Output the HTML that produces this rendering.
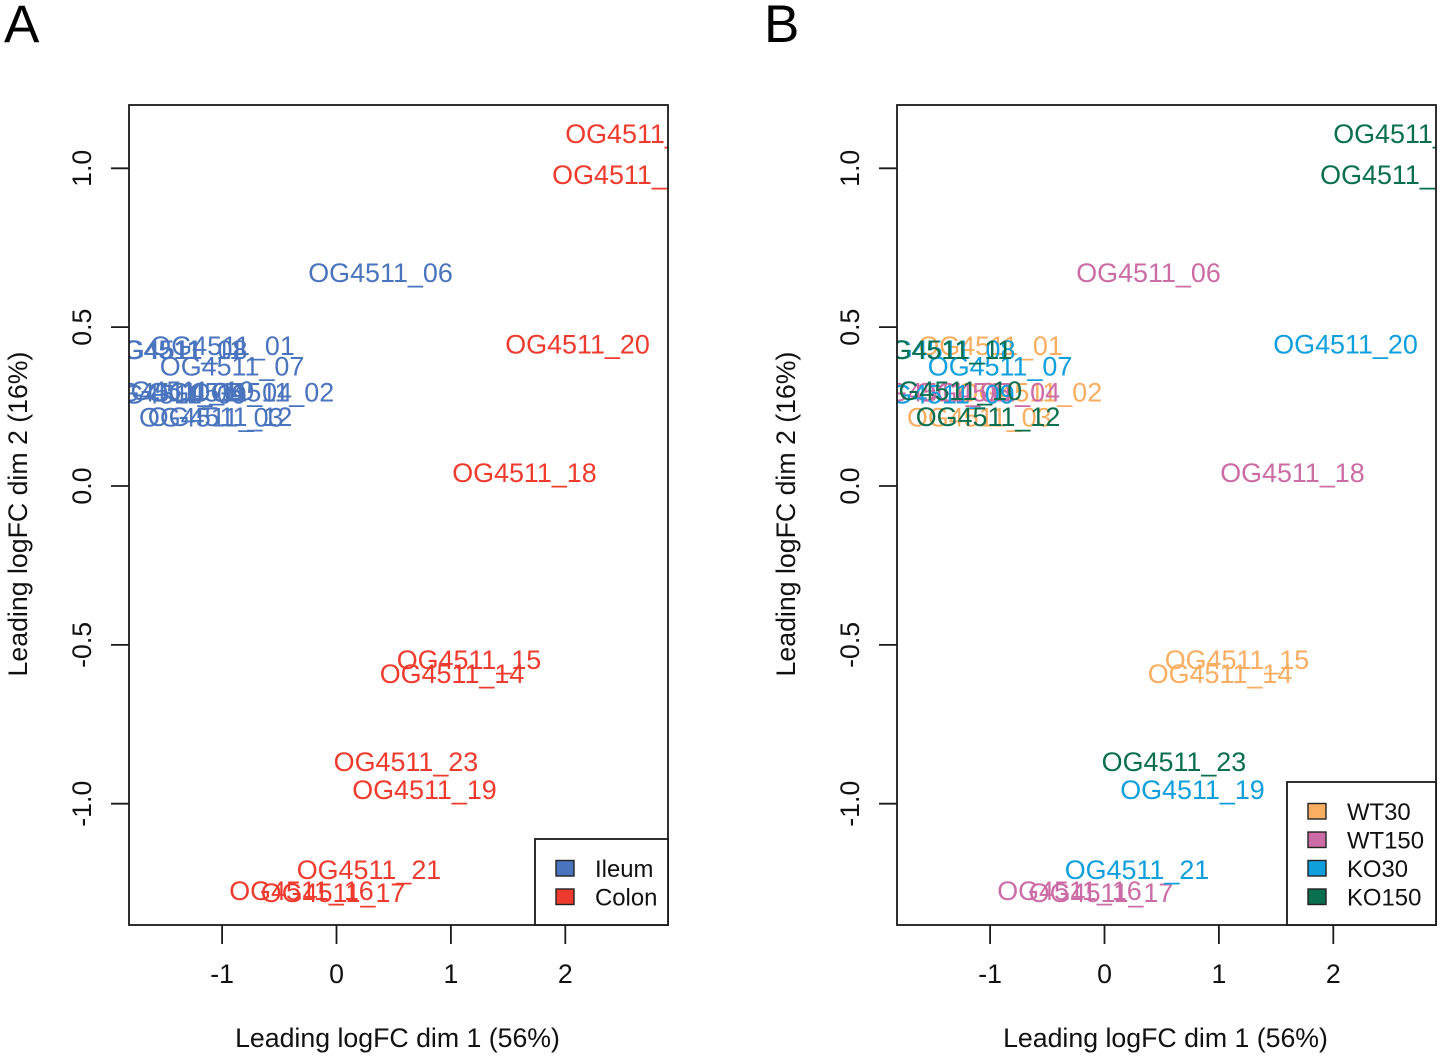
<!DOCTYPE html>
<html>
<head>
<meta charset="utf-8">
<title>MDS plots</title>
<style>
html,body{margin:0;padding:0;background:#fff;}
svg{display:block;}
text{font-family:"Liberation Sans",sans-serif;}
</style>
</head>
<body>
<svg id="fig" xmlns="http://www.w3.org/2000/svg" width="1441" height="1056" viewBox="0 0 1441 1056"></svg>
<script>
const sampleIds = ['01','02','03','04','05','06','07','08','09','10','11','12','14','15','16','17','18','19','20','21','22','23','24'];
const dim1Values = [-0.996,-0.652,-1.095,-1.02,-1.455,0.385,-0.913,-1.41,-1.416,-1.352,-1.43,-1.018,1.01,1.158,-0.306,-0.03,1.643,0.769,2.107,0.284,2.631,0.607,2.517];
const dim2Values = [0.44,0.293,0.215,0.293,0.293,0.67,0.375,0.427,0.288,0.299,0.427,0.217,-0.592,-0.548,-1.275,-1.281,0.04,-0.957,0.444,-1.209,1.108,-0.869,0.979];
const tissueGroup = ['Ileum','Ileum','Ileum','Ileum','Ileum','Ileum','Ileum','Ileum','Ileum','Ileum','Ileum','Ileum','Colon','Colon','Colon','Colon','Colon','Colon','Colon','Colon','Colon','Colon','Colon'];
const treatmentGroup = ['WT30','WT30','WT30','WT150','WT150','WT150','KO30','KO30','KO30','KO150','KO150','KO150','WT30','WT30','WT150','WT150','WT150','KO30','KO30','KO30','KO150','KO150','KO150'];
const xTickValues = [-1,0,1,2];
const yTickValues = [-1,-0.5,0,0.5,1];
const yTickLabels = ['-1.0','-0.5','0.0','0.5','1.0'];
const tissueLegend = ['Ileum','Colon'];
const treatmentLegend = ['WT30','WT150','KO30','KO150'];
const groupColors = {Ileum:'#4A74BE',Colon:'#EE3B2E',WT30:'#F9AE61',WT150:'#CC6CA6',KO30:'#0F9FDC',KO150:'#0A6F4E'};

const NS = 'http://www.w3.org/2000/svg';
const fig = document.getElementById('fig');
const INK = '#1a1a1a';

function el(parent, tag, attrs, content) {
  const node = document.createElementNS(NS, tag);
  for (const k in attrs) node.setAttribute(k, attrs[k]);
  if (content !== undefined) node.textContent = content;
  parent.appendChild(node);
  return node;
}

function drawPanel(offset, letter, letterX, groups, legendItems, legendLeft, legendTop, panelKey) {
  const left = 129 + offset, right = 668 + offset, top = 105, bottom = 925;
  const xScale = v => 336.5 + offset + v * 114.4;
  const yScale = v => 486 - v * 317.7;

  const panel = el(fig, 'g', {});
  
  

  const panelLetter = el(panel, 'text', {x: letterX, y: 42, 'font-size': 53, fill: '#000'}, letter);
  
  

  const clip = el(panel, 'clipPath', {id: 'clip-' + panelKey});
  el(clip, 'rect', {x: left, y: top, width: right - left, height: bottom - top});

  const labels = el(panel, 'g', {'clip-path': 'url(#clip-' + panelKey + ')'});
  
  
  sampleIds.forEach((id, i) => {
    const t = el(labels, 'text', {
      x: xScale(dim1Values[i]),
      y: yScale(dim2Values[i]) + 8.8,
      'text-anchor': 'middle',
      'font-size': 26.9,
      fill: groupColors[groups[i]]
    }, 'OG4511_' + id);
    
    
  });

  const box = el(panel, 'rect', {x: left, y: top, width: right - left, height: bottom - top, fill: 'none', stroke: INK, 'stroke-width': 1.8});
  
  

  xTickValues.forEach(v => {
    const x = xScale(v);
    const tick = el(panel, 'line', {x1: x, x2: x, y1: bottom, y2: 944, stroke: INK, 'stroke-width': 1.8});
    
    
    const t = el(panel, 'text', {x: x, y: 983, 'text-anchor': 'middle', 'font-size': 26.7, fill: '#111'}, String(v));
    
    
  });

  yTickValues.forEach((v, i) => {
    const y = yScale(v);
    const tick = el(panel, 'line', {x1: left - 18, x2: left, y1: y, y2: y, stroke: INK, 'stroke-width': 1.8});
    
    
    const tx = 91 + offset;
    const t = el(panel, 'text', {x: tx, y: y, 'text-anchor': 'middle', 'font-size': 26.7, fill: '#111', transform: 'rotate(-90 ' + tx + ' ' + y + ')'}, yTickLabels[i]);
    
    
  });

  const xTitle = el(panel, 'text', {x: 397.5 + offset, y: 1047, 'text-anchor': 'middle', 'font-size': 26.7, fill: '#111'}, 'Leading logFC dim 1 (56%)');
  
  

  const ytx = 27 + offset;
  const yTitle = el(panel, 'text', {x: ytx, y: 514, 'text-anchor': 'middle', 'font-size': 26.7, fill: '#111', transform: 'rotate(-90 ' + ytx + ' 514)'}, 'Leading logFC dim 2 (16%)');
  
  

  const legend = el(panel, 'g', {});
  
  
  el(legend, 'rect', {x: legendLeft, y: legendTop, width: right - legendLeft, height: bottom - legendTop, fill: '#fff', stroke: INK, 'stroke-width': 1.8});
  legendItems.forEach((name, i) => {
    const y = legendTop + 21.5 + i * 28.5;
    const entry = el(legend, 'g', {});
    
    
    el(entry, 'rect', {x: legendLeft + 21, y: y, width: 18, height: 15.5, fill: groupColors[name], stroke: '#222', 'stroke-width': 1.4});
    el(entry, 'text', {x: legendLeft + 60, y: y + 16.5, 'font-size': 23.9, fill: '#111'}, name);
  });
}

drawPanel(0, 'A', 4, tissueGroup, tissueLegend, 535, 839, 'a');
drawPanel(768, 'B', 764, treatmentGroup, treatmentLegend, 1287, 782, 'b');
</script>
</body>
</html>
